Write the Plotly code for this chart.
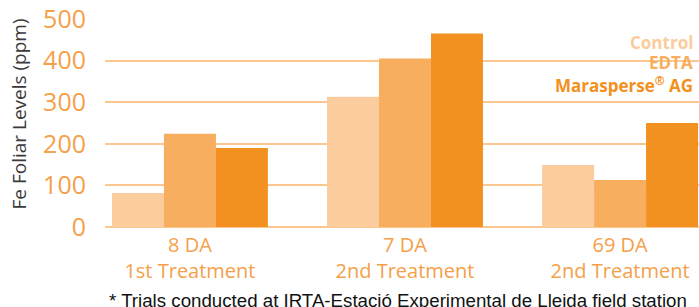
import plotly.graph_objects as go

categories = ["8 DA<br>1st Treatment", "7 DA<br>2nd Treatment", "69 DA<br>2nd Treatment"]
control = [82, 313, 149]
edta = [224, 405, 113]
marasperse = [190, 465, 250]
series_names = ["Control", "EDTA", "Marasperse® AG"]
colors = ["#FACC9E", "#F7AE5F", "#F29120"]
y_ticks = [0, 100, 200, 300, 400, 500]

fig = go.Figure()
for name, vals, col in zip(series_names, [control, edta, marasperse], colors):
    fig.add_trace(go.Bar(x=categories, y=vals, name=name, marker_color=col,
                         marker_line_width=0, showlegend=False))

grid_col = "#FBC78F"
tick_col = "#F5A04A"

fig.update_layout(
    width=699, height=307,
    margin=dict(l=105, r=0, t=19, b=80),
    plot_bgcolor="white", paper_bgcolor="white",
    barmode="group", bargap=0.275, bargroupgap=0,
    font=dict(family="Open Sans", color=tick_col),
    xaxis=dict(range=[-0.395, 2.367], showgrid=False, showline=False, zeroline=False,
               ticks="", tickfont=dict(size=20, color=tick_col, family="Open Sans"),
               ticklabelstandoff=4),
    yaxis=dict(range=[0, 500], tickvals=y_ticks, showgrid=True, gridcolor=grid_col,
               gridwidth=1.5, zeroline=True, zerolinecolor=grid_col, zerolinewidth=1.5,
               showline=False, ticks="", ticklabelstandoff=18,
               tickfont=dict(size=25, color=tick_col, family="Open Sans")),
)

# y-axis title
fig.add_annotation(text="Fe Foliar Levels (ppm)", xref="paper", yref="paper",
                   x=-0.145, y=0.545, textangle=-90, showarrow=False,
                   font=dict(size=19, color="#3a3a3a", family="Open Sans"),
                   xanchor="center", yanchor="middle")

# legend box (white background hiding gridlines)
fig.add_shape(type="rect", xref="paper", yref="paper",
              x0=(623 - 105) / 594, x1=1.0, y0=(227 - 99) / 208, y1=(227 - 30) / 208,
              fillcolor="white", line_width=0, layer="between")
leg_y = [42, 62, 84]
for name, col, py in zip(series_names, colors, leg_y):
    fig.add_annotation(text="<b>" + name.replace("®", "<sup>®</sup>") + "</b>",
                       xref="paper", yref="paper",
                       x=(695 - 105) / 594, y=(227 - py) / 208,
                       xanchor="right", yanchor="middle", showarrow=False,
                       font=dict(size=17, color=col, family="Open Sans"))

# footnote
fig.add_annotation(text="* Trials conducted at IRTA-Estació Experimental de Lleida field station",
                   xref="paper", yref="paper", x=(398 - 105) / 594, y=(227 - 300) / 208,
                   xanchor="center", yanchor="middle", showarrow=False,
                   font=dict(size=18.7, color="#111111", family="Liberation Sans"))

fig.write_html("out.html", config={"displayModeBar": False},
               post_script="document.body.style.margin='0px';document.body.style.overflow='hidden';")
